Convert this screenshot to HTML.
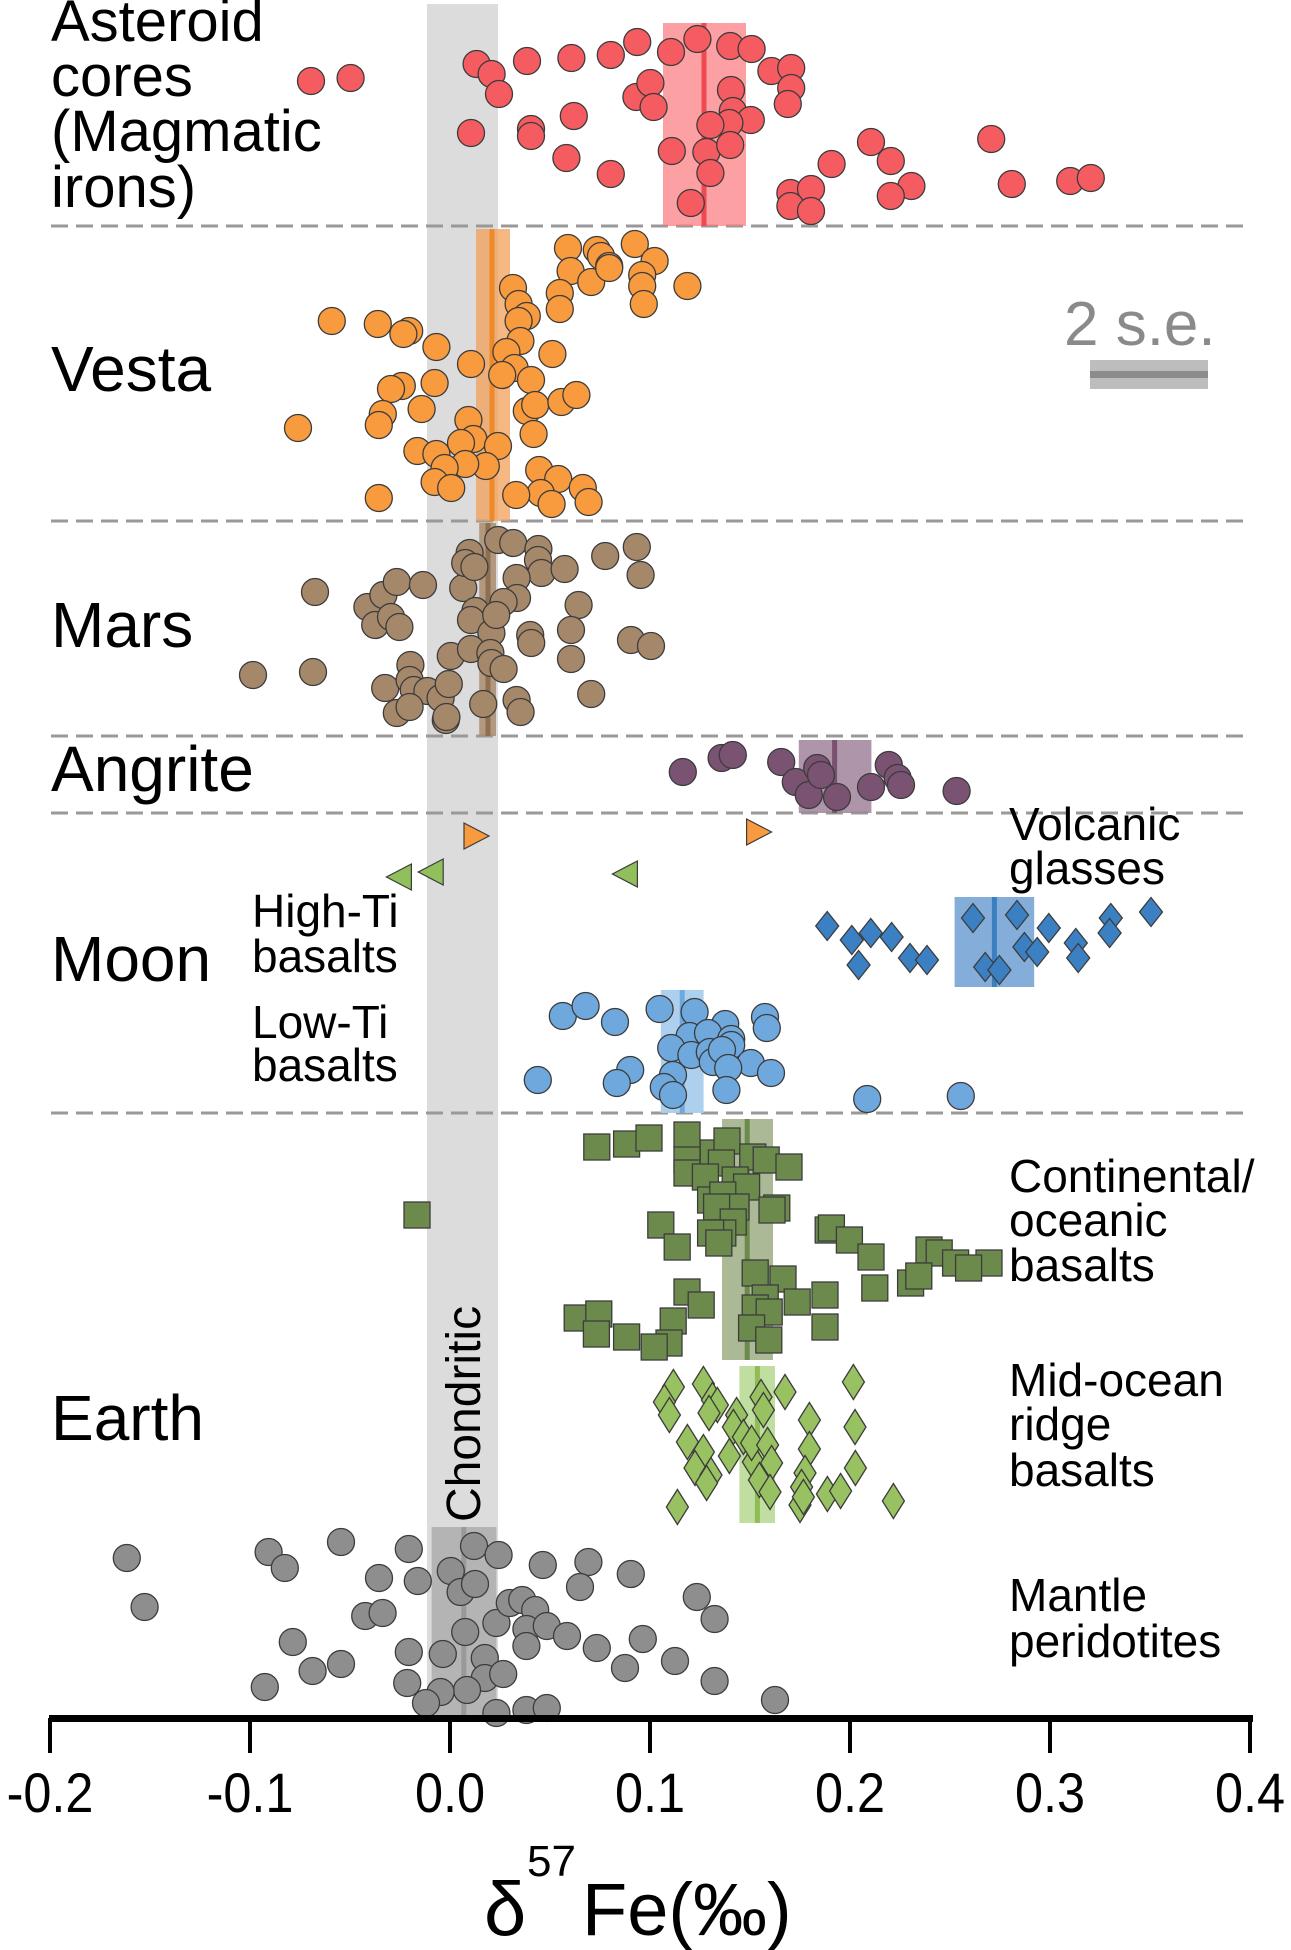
<!DOCTYPE html>
<html><head><meta charset="utf-8">
<style>
html,body{margin:0;padding:0;background:#fff;}
svg{display:block;}
text{font-family:"Liberation Sans",Arial,sans-serif;}
</style></head>
<body>
<svg id="chart" width="1291" height="1950" viewBox="0 0 1291 1950" xmlns="http://www.w3.org/2000/svg">
<rect x="427" y="4" width="71" height="1714" fill="#dcdcdc"/>
<g id="dividers"></g>
<g id="bands"></g>
<g id="marks"></g>
<g id="axis"></g>
<g font-size="58" fill="#000">
<text x="51" y="41">Asteroid</text>
<text x="51" y="96">cores</text>
<text x="51" y="151">(Magmatic</text>
<text x="51" y="207">irons)</text>
<text x="51" y="391" font-size="64">Vesta</text>
<text x="51" y="647" font-size="64">Mars</text>
<text x="51" y="791" font-size="64">Angrite</text>
<text x="51" y="981" font-size="64">Moon</text>
<text x="51" y="1440" font-size="64">Earth</text>
</g>
<g font-size="46" fill="#000">
<text x="252" y="927">High-Ti</text>
<text x="252" y="972">basalts</text>
<text x="252" y="1038">Low-Ti</text>
<text x="252" y="1081">basalts</text>
<text x="1009" y="840">Volcanic</text>
<text x="1009" y="884">glasses</text>
<text x="1009" y="1192">Continental/</text>
<text x="1009" y="1236">oceanic</text>
<text x="1009" y="1281">basalts</text>
<text x="1009" y="1396">Mid-ocean</text>
<text x="1009" y="1440">ridge</text>
<text x="1009" y="1486">basalts</text>
<text x="1009" y="1611">Mantle</text>
<text x="1009" y="1657">peridotites</text>
<text transform="translate(480,1522) rotate(-90)" font-size="48">Chondritic</text>
</g>
<g>
<text x="1064" y="345" font-size="62" fill="#8a8a8a">2 s.e.</text>
<rect x="1090" y="360" width="118" height="29" fill="#bdbdbd"/>
<rect x="1090" y="371" width="118" height="7" fill="#8c8c8c"/>
</g>
<g>
<text x="484" y="1935" font-size="76">δ</text>
<text x="527" y="1876" font-size="44">57</text>
<text x="582" y="1935" font-size="74">Fe(‰)</text>
</g>
</svg>
<script>
const NS="http://www.w3.org/2000/svg";
const tickValues=[-0.2,-0.1,0.0,0.1,0.2,0.3,0.4];
const tickLabels=["-0.2","-0.1","0.0","0.1","0.2","0.3","0.4"];
const dividerRows=[226,521,736,813,1113];

const asteroidX=[-0.0695,-0.0497,0.0133,0.0208,0.0245,0.0385,0.0607,0.0804,0.0936,0.1105,0.1237,0.1401,0.1508,0.1607,0.1706,0.1706,0.1689,0.0932,0.1002,0.1018,0.1405,0.1414,0.1504,0.1397,0.1302,0.0105,0.0405,0.0405,0.0619,0.0582,0.0804,0.1109,0.1282,0.1302,0.1401,0.1204,0.1908,0.2105,0.2204,0.2307,0.2204,0.2706,0.2809,0.3101,0.3204,0.1702,0.1805,0.1702,0.1805];
const asteroidY=[81,78,64,74,94,61,58,55,42,52,39,46,49,71,68,88,104,97,83,107,90,111,120,123,125,133,129,136,116,158,174,151,152,173,145,203,164,142,161,186,196,139,184,181,178,193,189,206,211];
const vestaX=[0.059,0.0734,0.0755,0.0796,0.0924,0.1023,0.0603,0.0706,0.0796,0.0961,0.0961,0.0969,0.1187,0.0315,0.0343,0.0549,0.0549,0.0384,0.0343,-0.0591,-0.0361,-0.0204,-0.0233,-0.0068,0.0105,0.0352,0.0282,0.0323,0.0512,0.0261,0.0405,-0.0077,-0.0241,-0.0295,-0.0142,-0.0336,-0.0356,-0.076,0.0092,0.0384,0.0426,0.0557,0.0632,0.0418,0.0117,0.0055,-0.0163,-0.0068,0.024,0.0179,0.0076,-0.0027,-0.0077,0.0006,-0.0356,0.0446,0.0541,0.0454,0.0331,0.0664,0.0693,0.0508];
const vestaY=[248,250,256,266,244,261,271,282,268,275,286,304,286,288,304,293,309,316,321,321,324,331,334,347,364,341,352,368,354,375,380,383,386,389,409,414,425,428,420,411,405,402,395,434,439,443,451,454,446,466,464,468,482,488,498,470,479,493,495,488,502,504];
const marsX=[-0.0675,-0.0985,-0.0685,-0.0413,-0.0374,-0.0333,-0.0266,-0.0135,-0.0295,-0.0253,-0.0324,-0.0198,-0.0202,-0.0181,-0.0113,-0.0047,-0.0006,0.0004,-0.0266,-0.0202,-0.0021,-0.0018,0.0066,0.0098,0.0076,0.0122,0.0127,0.0105,0.0207,0.0105,0.0202,0.0207,0.0268,0.0166,0.0241,0.0316,0.0442,0.044,0.0457,0.0333,0.0335,0.0268,0.0231,0.0573,0.0643,0.0605,0.0401,0.0406,0.0605,0.0333,0.0353,0.0706,0.0776,0.0934,0.0953,0.0905,0.1005];
const marsY=[592,675,672,607,625,595,582,585,617,627,688,665,680,690,691,698,684,656,713,707,720,717,588,553,563,567,611,620,633,649,653,663,669,704,540,543,549,560,573,578,598,602,615,569,605,630,635,643,659,700,712,694,556,547,575,640,646];
const angriteX=[0.1164,0.1358,0.1414,0.1656,0.1729,0.1794,0.1836,0.1855,0.1935,0.2105,0.2194,0.2238,0.2255,0.2533];
const angriteY=[772,758,755,762,782,795,768,775,797,787,765,778,785,791];
const orangeTriX=[0.013,0.1543];
const orangeTriY=[836,832];
const greenTriX=[-0.0253,-0.0094,0.0877];
const greenTriY=[877,872,874];
const volcanicX=[0.1886,0.2009,0.2043,0.2104,0.2208,0.23,0.2385,0.2615,0.2676,0.2747,0.2835,0.2872,0.2936,0.2994,0.3129,0.3141,0.3304,0.3298,0.3505];
const volcanicY=[926,940,965,933,937,958,960,918,967,970,915,947,952,928,943,958,918,933,912];
const lowTiX=[0.0564,0.0678,0.0825,0.1048,0.1223,0.1575,0.1584,0.1376,0.1198,0.129,0.1406,0.1406,0.1106,0.1207,0.1299,0.1314,0.136,0.1504,0.1605,0.1391,0.0901,0.0834,0.1115,0.1069,0.1115,0.1382,0.0439,0.2086,0.2554];
const lowTiY=[1016,1006,1022,1009,1012,1017,1028,1024,1036,1033,1039,1045,1048,1055,1052,1062,1050,1063,1073,1068,1070,1083,1075,1087,1095,1090,1080,1099,1096];
const contX=[-0.0165,0.0734,0.0883,0.0995,0.1185,0.1185,0.1185,0.1316,0.1385,0.1357,0.1277,0.1514,0.1581,0.1695,0.1426,0.1483,0.1303,0.1364,0.143,0.1333,0.1416,0.1364,0.1303,0.1344,0.1634,0.161,0.1054,0.1136,0.1891,0.1907,0.1997,0.2105,0.2124,0.2395,0.2446,0.2528,0.2695,0.2593,0.2303,0.2344,0.1526,0.1665,0.1875,0.1736,0.1576,0.1526,0.1596,0.1508,0.1594,0.1875,0.1185,0.1256,0.0636,0.0744,0.0732,0.0883,0.1116,0.1095,0.1021];
const contY=[1215,1147,1144,1138,1135,1160,1173,1153,1141,1163,1177,1157,1160,1167,1180,1187,1200,1195,1207,1207,1222,1233,1233,1243,1208,1210,1225,1247,1230,1228,1240,1257,1288,1250,1253,1263,1263,1268,1283,1276,1273,1279,1295,1302,1298,1308,1312,1328,1340,1327,1292,1305,1318,1314,1334,1337,1321,1343,1347];
const morbX=[0.1117,0.1072,0.1097,0.1267,0.1312,0.1337,0.1295,0.1187,0.1267,0.1225,0.1305,0.1283,0.1137,0.1433,0.1417,0.1467,0.1397,0.1517,0.1508,0.1555,0.1567,0.1588,0.1608,0.1547,0.16,0.1675,0.1797,0.1797,0.1775,0.1758,0.175,0.1767,0.1887,0.1953,0.2017,0.2025,0.2027,0.2217];
const morbY=[1387,1402,1415,1384,1400,1405,1413,1442,1452,1468,1475,1483,1507,1415,1427,1437,1456,1462,1443,1397,1410,1445,1463,1480,1492,1392,1420,1449,1473,1487,1505,1497,1494,1491,1382,1427,1468,1501];
const peridX=[-0.1616,-0.1527,-0.0907,-0.0826,-0.0545,-0.0355,-0.0206,-0.0161,0.0004,0.012,0.0243,0.0053,0.0125,0.0464,0.0692,0.065,0.0904,0.1234,0.1323,-0.0424,-0.0337,-0.0786,-0.0687,-0.0545,-0.0926,-0.0206,-0.0214,-0.0036,0.0076,0.0232,0.0299,0.0361,0.0426,0.0382,0.0484,0.0382,0.0585,0.0734,0.0964,0.0875,0.1125,0.1323,0.1625,0.0174,0.0174,0.0266,0.0085,-0.0047,-0.012,0.0232,0.0382,0.0484];
const peridY=[1558,1607,1552,1568,1542,1578,1549,1581,1571,1546,1555,1592,1584,1565,1562,1587,1574,1597,1619,1616,1613,1642,1671,1664,1687,1652,1683,1654,1632,1623,1603,1600,1610,1629,1626,1646,1636,1648,1639,1668,1661,1681,1700,1658,1678,1674,1690,1692,1703,1713,1710,1708];

// mean bands: [low, mean, high]
const asteroidMean=[0.1065,0.127,0.148];
const vestaMean=[0.013,0.021,0.030];
const marsMean=[0.0146,0.019,0.023];
const angriteMean=[0.1744,0.1923,0.2107];
const volcanicMean=[0.2523,0.2722,0.2921];
const lowTiMean=[0.1054,0.1161,0.1268];
const contMean=[0.136,0.1486,0.1615];
const morbMean=[0.1447,0.1537,0.1625];
const peridMean=[-0.0092,0.0069,0.0232];

function xs(v){return 450+2000*v;}
function mk(tag,attrs,parent){const e=document.createElementNS(NS,tag);for(const k in attrs)e.setAttribute(k,attrs[k]);parent.appendChild(e);return e;}

const dg=document.getElementById('dividers');
dividerRows.forEach(function(y){
  const l=mk('line',{x1:51,x2:1251,y1:y,y2:y,stroke:'#999',"stroke-width":3,"stroke-dasharray":"17 8"},dg);
  
  
});

const bg=document.getElementById('bands');
function band(m,y0,y1,fill,line,name){
  const r=mk('rect',{x:xs(m[0]),y:y0,width:xs(m[2])-xs(m[0]),height:y1-y0,fill:fill},bg);
  
  
  const l=mk('line',{x1:xs(m[1]),x2:xs(m[1]),y1:y0,y2:y1,stroke:line,"stroke-width":5},bg);
  
  
}
band(asteroidMean,23,226,'rgba(252,120,124,0.7)','#ee4a50','asteroid');
band(vestaMean,229,521,'rgba(243,160,90,0.75)','#f08a28','vesta');
band(marsMean,523,736,'rgba(170,140,110,0.85)','#8f6f50','mars');
band(angriteMean,740,813,'rgba(160,130,155,0.85)','#7a5270','angrite');
band(volcanicMean,897,987,'rgba(110,160,210,0.85)','#3b7fc0','volcanic');
band(lowTiMean,990,1113,'rgba(170,205,238,0.95)','#6fa8dc','low-ti');
band(contMean,1119,1360,'rgba(150,168,125,0.8)','#6b8a4b','continental');
band(morbMean,1366,1523,'rgba(185,218,150,0.9)','#8fbc55','morb');
band(peridMean,1527,1718,'rgba(170,170,170,0.8)','#999','peridotite');

const mg=document.getElementById('marks');
const STROKE='#3c3c3c';
function circles(X,Y,fill,name,r){
  for(let i=0;i<Math.min(X.length,Y.length);i++){
    const c=mk('ellipse',{cx:xs(X[i]),cy:Y[i],rx:r,ry:r,fill:fill,stroke:STROKE,"stroke-width":1.3},mg);
    
    
  }
}
function squares(X,Y,fill,name){
  for(let i=0;i<Math.min(X.length,Y.length);i++){
    const s=mk('rect',{x:xs(X[i])-13,y:Y[i]-13,width:26,height:26,fill:fill,stroke:STROKE,"stroke-width":1.3},mg);
    
    
  }
}
function diamonds(X,Y,fill,name,hw,hh){
  for(let i=0;i<Math.min(X.length,Y.length);i++){
    const x=xs(X[i]),y=Y[i];
    const p=mk('polygon',{points:x+','+(y-hh)+' '+(x+hw)+','+y+' '+x+','+(y+hh)+' '+(x-hw)+','+y,fill:fill,stroke:STROKE,"stroke-width":1.3},mg);
    
    
  }
}
function tris(X,Y,fill,name,dir){
  for(let i=0;i<Math.min(X.length,Y.length);i++){
    const x=xs(X[i]),y=Y[i];
    const pts=dir>0?(x-12)+','+(y-13)+' '+(x+13)+','+y+' '+(x-12)+','+(y+13):(x+12)+','+(y-13)+' '+(x-13)+','+y+' '+(x+12)+','+(y+13);
    const p=mk('polygon',{points:pts,fill:fill,stroke:STROKE,"stroke-width":1.2},mg);
    
    
  }
}
circles(asteroidX,asteroidY,'#f45c61','asteroid',13.5);
circles(vestaX,vestaY,'#f89a3e','vesta',13.5);
circles(marsX,marsY,'#a5876a','mars',13.5);
circles(angriteX,angriteY,'#7a5272','angrite',13.5);
tris(orangeTriX,orangeTriY,'#f89a3e','orange-triangle',1);
tris(greenTriX,greenTriY,'#90bf5c','green-triangle',-1);
diamonds(volcanicX,volcanicY,'#3b80c2','volcanic-glass',11.5,14.5);
circles(lowTiX,lowTiY,'#6fa8dd','low-ti',13.5);
squares(contX,contY,'#6b8a4b','continental-basalt');
diamonds(morbX,morbY,'#98c262','morb',11,17.5);
circles(peridX,peridY,'#8e8e8e','peridotite',13.5);

const ag=document.getElementById('axis');
const al=mk('rect',{x:49,y:1715,width:1204,height:7,fill:'#000'},ag);


tickValues.forEach(function(v,i){
  const t=mk('rect',{x:xs(v)-2,y:1718,width:4,height:35,fill:'#000'},ag);
  
  
  const tx=mk('text',{x:xs(v),y:1812,"text-anchor":"middle","font-size":56,transform:'translate('+xs(v)+',0) scale(0.9,1) translate('+(-xs(v))+',0)'},ag);
  tx.textContent=tickLabels[i];
  
  
});
</script>
</body></html>
